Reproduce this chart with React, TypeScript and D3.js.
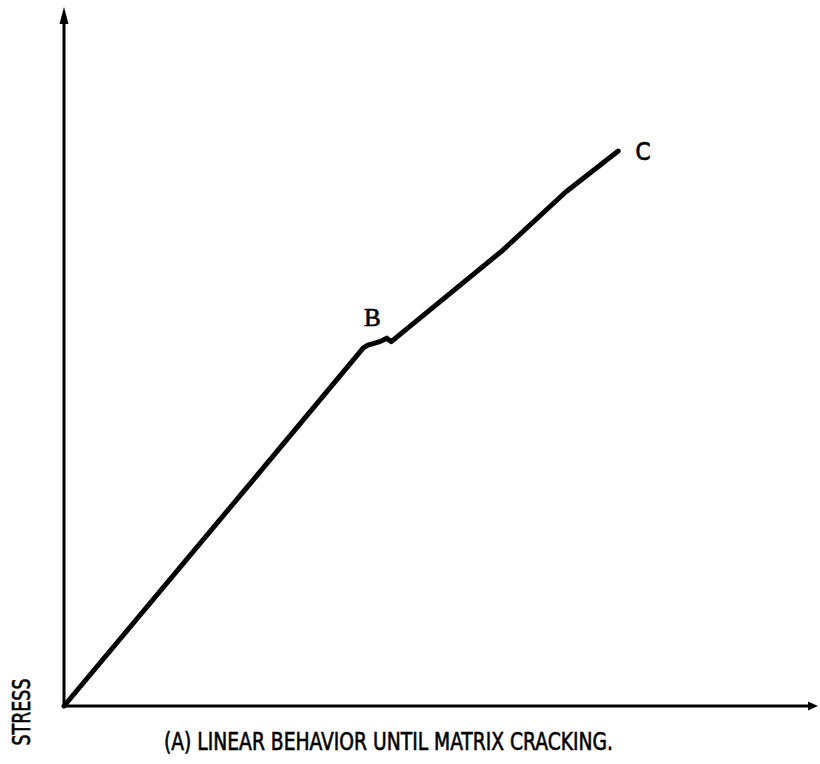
import React from "react";
import * as d3 from "d3";

const strain = [0, 2.51, 3.97, 4.03, 4.19, 4.28, 4.34, 5.82, 6.65, 7.35];
const stress = [0, 3.24, 5.13, 5.17, 5.22, 5.27, 5.22, 6.53, 7.36, 7.95];
const pointLabels = [
  { name: "B", x: 4.09, y: 5.45, serif: true },
  { name: "C", x: 7.58, y: 7.82, serif: false },
];
const yTitle = "STRESS";
const caption = "(A) LINEAR BEHAVIOR UNTIL MATRIX CRACKING.";

export default function App() {
  const W = 820, H = 764;
  const x = d3.scaleLinear().domain([0, 10]).range([64, 818]);
  const y = d3.scaleLinear().domain([0, 10]).range([706, 8]);
  const pts = strain.map((s, i) => [s, stress[i]] as [number, number]);
  const line = d3.line<[number, number]>().x(d => x(d[0])).y(d => y(d[1]));
  const x0 = x(0), y0 = y(0);
  const font = "'DejaVu Sans Condensed', 'Liberation Sans Narrow', sans-serif";
  return (
    <svg width={W} height={H} style={{ position: "absolute", left: 0, top: 0, background: "#fff" }}>
      <rect width={W} height={H} fill="#fff" />
      {/* axes */}
      <line x1={x0} y1={y0 + 1} x2={x0} y2={y(10) + 12} stroke="#000" strokeWidth={3} />
      <path d={`M${x0 - 4.5},${y(10) + 16} L${x0},${y(10) - 1} L${x0 + 4.5},${y(10) + 16} Z`} fill="#000" />
      <line x1={x0 - 1} y1={y0} x2={x(10) - 8} y2={y0} stroke="#000" strokeWidth={3} />
      <path d={`M${x(10) - 10},${y0 - 4.5} L${x(10)},${y0} L${x(10) - 10},${y0 + 4.5} Z`} fill="#000" />
      {/* curve */}
      <path d={line(pts) || ""} fill="none" stroke="#000" strokeWidth={5} strokeLinejoin="round" strokeLinecap="round" />
      {pointLabels.map(p => (
        <text key={p.name} x={x(p.x)} y={y(p.y)} fontSize={p.serif ? 25 : 24}
          fontFamily={p.serif ? "'Liberation Serif', serif" : font}
          textAnchor={p.serif ? "middle" : "start"} fill="#000" stroke="#000" strokeWidth={0.7}>{p.name}</text>
      ))}
      <text transform="translate(30,712) rotate(-90)" textAnchor="middle" fontSize={24}
        fontFamily={font} fill="#000" stroke="#000" strokeWidth={0.6}
        textLength={67} lengthAdjust="spacingAndGlyphs">{yTitle}</text>
      <text x={164} y={750} fontSize={24} fontFamily={font} fill="#000" stroke="#000" strokeWidth={0.6}
        textLength={449} lengthAdjust="spacingAndGlyphs">{caption}</text>
    </svg>
  );
}
